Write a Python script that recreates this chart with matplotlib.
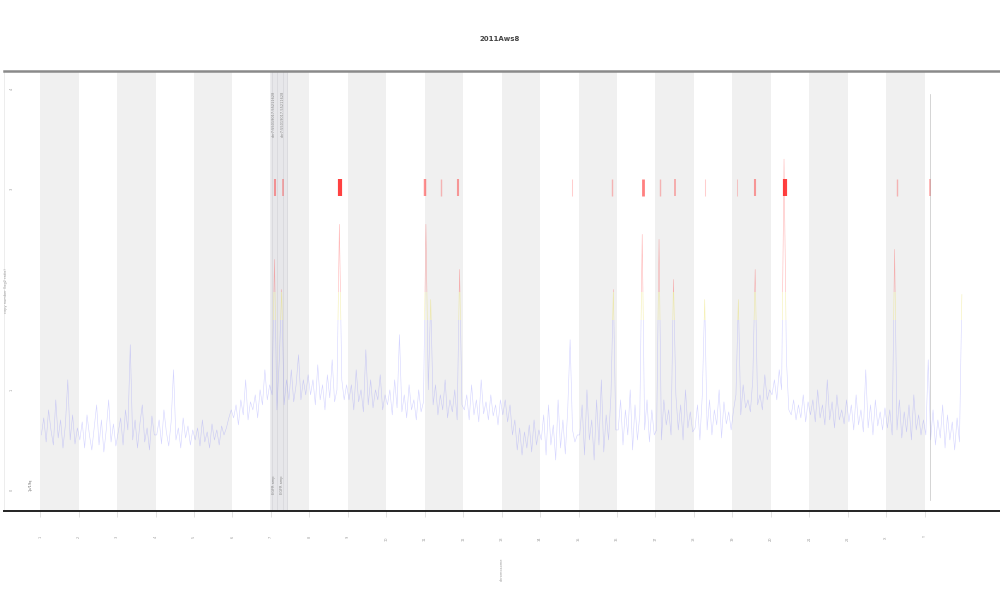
import numpy as np
import matplotlib
matplotlib.use("Agg")
import matplotlib.pyplot as plt
from matplotlib.patches import Rectangle

# Chromosome-like segments along the x axis (one unit each)
segments = ["1", "2", "3", "4", "5", "6", "7", "8", "9", "10", "11", "12",
            "13", "14", "15", "16", "17", "18", "19", "20", "21", "22", "X", "Y"]

# Signal values per segment
seg_values = [
    [0.55, 0.72, 0.48, 0.80, 0.60, 0.45, 0.90, 0.52, 0.70, 0.42, 0.65, 1.10, 0.50, 0.75, 0.46, 0.62],
    [0.50, 0.68, 0.42, 0.75, 0.55, 0.40, 0.62, 0.85, 0.45, 0.70, 0.38, 0.60, 0.90, 0.48, 0.66, 0.44],
    [0.58, 0.72, 0.45, 0.80, 0.60, 1.45, 0.50, 0.70, 0.42, 0.66, 0.85, 0.48, 0.62, 0.40, 0.74, 0.55],
    [0.55, 0.70, 0.46, 0.80, 0.58, 0.44, 0.68, 1.20, 0.50, 0.62, 0.42, 0.72, 0.52, 0.64, 0.45, 0.60],
    [0.50, 0.62, 0.44, 0.70, 0.48, 0.58, 0.42, 0.66, 0.50, 0.60, 0.45, 0.64, 0.55, 0.62, 0.72, 0.80],
    [0.72, 0.85, 0.65, 0.90, 0.75, 1.10, 0.70, 0.88, 0.80, 0.95, 0.72, 1.00, 0.85, 1.20, 0.90, 1.05],
    [0.95, 2.30, 0.80, 1.30, 2.00, 0.85, 1.10, 0.90, 1.20, 0.88, 1.05, 1.35, 0.90, 1.10, 0.95, 1.15],
    [0.95, 1.10, 0.85, 1.25, 0.90, 1.05, 0.80, 1.15, 0.92, 1.30, 0.88, 1.00, 2.65, 1.10, 0.90, 1.05],
    [0.90, 1.05, 0.80, 1.20, 0.88, 1.00, 0.78, 1.40, 0.85, 1.10, 0.82, 1.00, 0.90, 1.15, 0.80, 0.95],
    [0.85, 1.00, 0.75, 1.10, 0.82, 1.55, 0.78, 0.95, 0.72, 1.05, 0.80, 0.90, 0.70, 1.00, 0.78, 0.88],
    [2.65, 1.00, 1.90, 0.85, 1.05, 0.75, 0.95, 0.80, 1.10, 0.72, 0.90, 0.78, 1.00, 0.70, 2.20, 0.85],
    [0.80, 0.95, 0.70, 1.05, 0.75, 0.90, 0.68, 1.10, 0.76, 0.88, 0.70, 0.95, 0.74, 0.85, 0.65, 0.90],
    [0.75, 0.90, 0.68, 0.85, 0.55, 0.70, 0.40, 0.62, 0.35, 0.58, 0.42, 0.65, 0.38, 0.70, 0.45, 0.60],
    [0.50, 0.75, 0.35, 0.85, 0.45, 0.65, 0.30, 0.90, 0.42, 0.70, 0.36, 0.80, 1.50, 0.60, 0.48, 0.55],
    [0.55, 0.85, 0.35, 1.00, 0.50, 0.70, 0.30, 0.90, 0.45, 1.10, 0.38, 0.75, 0.50, 0.95, 2.00, 0.60],
    [0.60, 0.90, 0.45, 0.80, 0.55, 1.00, 0.40, 0.85, 0.50, 0.75, 2.55, 0.60, 0.90, 0.48, 0.80, 0.55],
    [0.60, 2.50, 0.50, 0.90, 0.65, 0.80, 0.55, 2.10, 0.95, 0.60, 0.85, 0.50, 1.00, 0.62, 0.78, 0.58],
    [0.62, 0.85, 0.50, 0.95, 1.90, 0.60, 0.90, 0.55, 0.80, 0.65, 1.00, 0.52, 0.88, 0.66, 0.78, 0.60],
    [0.80, 0.95, 1.90, 0.75, 1.05, 0.82, 0.90, 0.78, 1.10, 2.20, 0.85, 0.95, 0.80, 1.15, 0.90, 1.00],
    [0.95, 1.10, 0.90, 1.20, 1.00, 3.30, 1.30, 0.80, 0.75, 0.90, 0.70, 0.85, 0.72, 0.95, 0.68, 0.88],
    [0.75, 0.90, 0.68, 1.00, 0.72, 0.85, 0.65, 1.10, 0.70, 0.88, 0.62, 0.95, 0.70, 0.80, 0.66, 0.90],
    [0.68, 0.85, 0.60, 0.95, 0.65, 0.80, 0.58, 1.20, 0.62, 0.85, 0.55, 0.90, 0.64, 0.78, 0.60, 0.82],
    [0.62, 0.80, 0.55, 2.40, 0.60, 0.90, 0.52, 0.78, 0.58, 0.85, 0.50, 0.95, 0.60, 0.75, 0.55, 0.70],
    [0.55, 1.30, 0.50, 0.80, 0.45, 0.70, 0.52, 0.85, 0.42, 0.75, 0.50, 0.68, 0.40, 0.72, 0.48, 1.95],
]

# Red calls at the top level (position, strength)
red_marks_x = [6.11, 6.32, 7.80, 10.01, 10.43, 10.87, 13.83, 14.87, 15.68,
               16.12, 16.51, 17.29, 18.12, 18.59, 19.37, 22.28, 23.14]
red_marks_strength = [0.4, 0.3, 1.0, 0.5, 0.2, 0.4, 0.1, 0.2, 0.6,
                      0.2, 0.3, 0.1, 0.1, 0.4, 1.0, 0.2, 0.3]

# Highlighted region and marker lines
highlight = (5.98, 6.42)
highlight_lines = [6.03, 6.16, 6.32, 6.42]
marker_line_x = 23.14

x = np.concatenate([i + (np.arange(len(v)) + 0.5) / len(v) for i, v in enumerate(seg_values)])
y = np.concatenate(seg_values)

fig = plt.figure(figsize=(10, 6), dpi=100)
ax = fig.add_axes([0.004, 0.148, 0.996, 0.734])
ax.set_xlim(-0.94, 24.96)
ax.set_ylim(-0.21, 4.18)

# alternating bands
for i in range(0, len(segments), 2):
    ax.axvspan(i, i + 1, color="#f0f0f0", lw=0, zorder=0)

ax.axvspan(*highlight, color="#e4e4e8", alpha=0.7, lw=0, zorder=0.5)
for hx in highlight_lines:
    ax.axvline(hx, color="#d8d8dc", lw=0.6, zorder=0.6)

# signal coloured by height
for lo, hi, col, a in [(-1, 1.7, "#6464ff", 0.28), (1.7, 1.98, "#e8dc50", 0.45), (1.98, 5, "#ff3030", 0.35)]:
    line, = ax.plot(x, y, color=col, lw=0.4, alpha=a, zorder=2)
    clip = Rectangle((-2, lo), 30, hi - lo, transform=ax.transData)
    line.set_clip_path(clip)

for rx, s in zip(red_marks_x, red_marks_strength):
    ax.plot([rx, rx], [2.93, 3.1], color="#ff2020", lw=0.5 + 2.5 * s, alpha=0.15 + 0.7 * s,
            solid_capstyle="butt", zorder=3)

ax.plot([marker_line_x, marker_line_x], [-0.1, 3.95], color="#888888", lw=0.5, alpha=0.5, zorder=3)

# little vertical labels in the highlighted region
for tx in [6.08, 6.3]:
    ax.text(tx, 3.75, "chr7:55019017-55211628", rotation=90, fontsize=2.5,
            color="#888888", ha="center", va="center")
    ax.text(tx, 0.05, "EGFR amp", rotation=90, fontsize=2.5,
            color="#888888", ha="center", va="center")
ax.text(-0.26, 0.05, "1p/19q", rotation=90, fontsize=2.5, color="#666666",
        ha="center", va="center")

ax.set_xticks(range(len(segments)))
ax.set_xticklabels(segments, rotation=90)
ax.tick_params(axis="x", length=4, width=0.4, color="#cccccc", pad=14,
               labelsize=2.5, labelcolor="#999999")
ax.set_yticks([0, 1, 3, 4])
ax.set_yticklabels(["0", "1", "3", "4"], rotation=90)
ax.tick_params(axis="y", length=0, pad=-4, labelsize=2.5, labelcolor="#999999")
for lab in ax.get_yticklabels():
    lab.set_ha("left")
ax.set_xlabel("chromosome", rotation=90, fontsize=2.5, color="#999999", labelpad=12)
fig.text(0.004, 0.515, "copy number (log2 ratio)", rotation=90, fontsize=2.5,
         color="#999999", ha="left", va="center")

ax.spines["top"].set_color("#8a8a8a")
ax.spines["top"].set_linewidth(1.8)
ax.spines["bottom"].set_color("#222222")
ax.spines["bottom"].set_linewidth(1.4)
ax.spines["left"].set_color("#e6e6e6")
ax.spines["left"].set_linewidth(0.5)
ax.spines["right"].set_visible(False)

fig.suptitle("2011Aws8", y=0.94, fontsize=5, color="#444444", fontweight="bold")

fig.savefig("out.png", dpi=100, facecolor="white")
